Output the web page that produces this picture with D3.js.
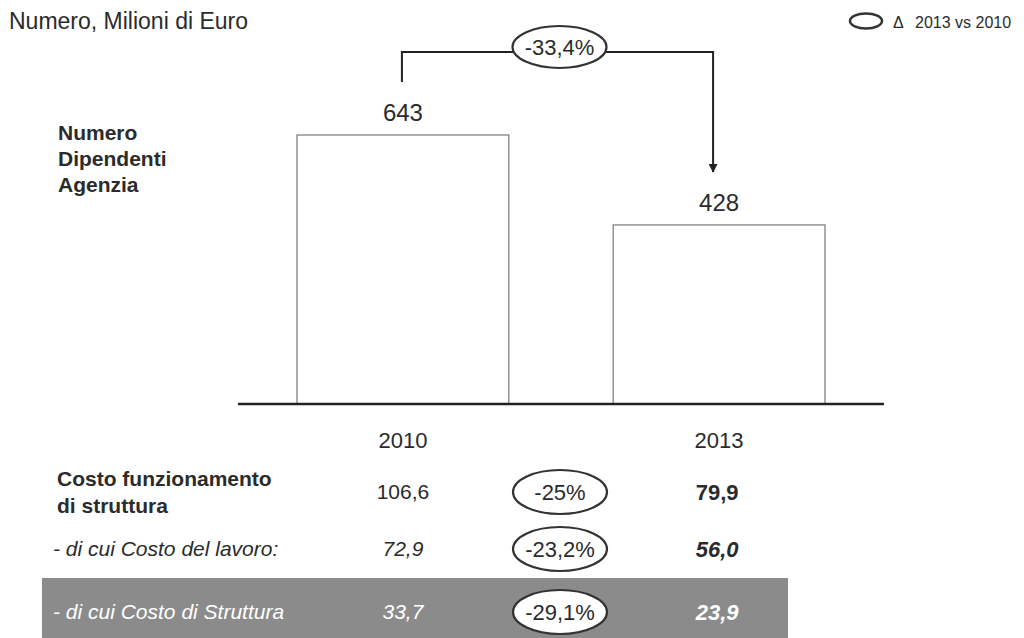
<!DOCTYPE html>
<html>
<head>
<meta charset="utf-8">
<script src="https://cdn.jsdelivr.net/npm/d3@7"></script>
<style>
body{margin:0;background:#fff;}
text{font-family:"Liberation Sans",Arial,sans-serif;fill:#2b2b2b;}
</style>
</head>
<body>
<svg class="chart" width="1024" height="638"></svg>
<script>
// chart data
var years = ["2010", "2013"];
var employees = [643, 428];
var employeesChange = "-33,4%";
var seriesLabel = ["Numero", "Dipendenti", "Agenzia"];

var rowLabels = [["Costo funzionamento", "di struttura"], ["- di cui Costo del lavoro:"], ["- di cui Costo di Struttura"]];
var costs2010 = [106.6, 72.9, 33.7];
var costs2013 = [79.9, 56.0, 23.9];
var costChanges = ["-25%", "-23,2%", "-29,1%"];

var it = d3.formatLocale({decimal: ",", thousands: ".", grouping: [3], currency: ["", "€"]});
var fmt = it.format(".1f");

var svg = d3.select(".chart");

var x = d3.scaleBand().domain(years).range([297, 825]).paddingInner(0.33).paddingOuter(0);
var y = d3.scaleLinear().domain([0, 643]).range([404, 135]);
var cx = function(d){ return x(d) + x.bandwidth() / 2; };

// header + legend
svg.append("text").attr("x", 9).attr("y", 21).attr("dy", "0.35em")
	.style("font-size", "23px").text("Numero, Milioni di Euro");

svg.append("ellipse").attr("cx", 866).attr("cy", 21).attr("rx", 16).attr("ry", 7.5)
	.style("fill", "none").style("stroke", "#333").style("stroke-width", 2.5);
svg.append("text").attr("x", 893).attr("y", 22).attr("dy", "0.35em")
	.style("font-size", "16px").text("Δ");
svg.append("text").attr("x", 915).attr("y", 22).attr("dy", "0.35em")
	.style("font-size", "16px").text("2013 vs 2010");

// series label
svg.selectAll(".slabel")
	.data(seriesLabel)
	.enter()
	.append("text")
	.attr("class", "slabel")
	.attr("x", 58)
	.attr("y", function(d, i){ return 133 + i * 26; })
	.attr("dy", "0.35em")
	.style("font-size", "21px").style("font-weight", "bold")
	.text(function(d){ return d; });

// bars
svg.selectAll(".bar")
	.data(employees)
	.enter()
	.append("rect")
	.attr("class", "bar")
	.attr("x", function(d, i){ return x(years[i]); })
	.attr("y", function(d){ return y(d); })
	.attr("width", x.bandwidth())
	.attr("height", function(d){ return y(0) - y(d); })
	.style("fill", "#fff").style("stroke", "#777").style("stroke-width", 1.2);

svg.selectAll(".vlabel")
	.data(employees)
	.enter()
	.append("text")
	.attr("class", "vlabel")
	.attr("x", function(d, i){ return cx(years[i]); })
	.attr("y", function(d){ return y(d) - 22; })
	.attr("dy", "0.35em")
	.attr("text-anchor", "middle")
	.style("font-size", "24px")
	.text(function(d){ return d; });

// baseline
svg.append("line").attr("x1", 238).attr("x2", 884).attr("y1", y(0)).attr("y2", y(0))
	.style("stroke", "#222").style("stroke-width", 2.5);

svg.selectAll(".year")
	.data(years)
	.enter()
	.append("text")
	.attr("class", "year")
	.attr("x", function(d){ return cx(d); })
	.attr("y", 440)
	.attr("dy", "0.35em")
	.attr("text-anchor", "middle")
	.style("font-size", "22px")
	.text(function(d){ return d; });

// change bracket
svg.append("defs").append("marker")
	.attr("id", "arrow").attr("viewBox", "0 0 10 10")
	.attr("refX", 9).attr("refY", 5)
	.attr("markerWidth", 4.5).attr("markerHeight", 4.5)
	.attr("orient", "auto")
	.append("path").attr("d", "M0,0L10,5L0,10Z").style("fill", "#222");

var bx0 = cx(years[0]) - 1, bx1 = cx(years[1]) - 6, bTop = 52, ex = (bx0 + bx1) / 2 + 2;
svg.append("path")
	.attr("d", "M" + bx0 + "," + (y(employees[0]) - 53) + "V" + bTop + "H" + ex)
	.style("fill", "none").style("stroke", "#222").style("stroke-width", 2);
svg.append("path")
	.attr("d", "M" + ex + "," + bTop + "H" + bx1 + "V" + (y(employees[1]) - 53))
	.attr("marker-end", "url(#arrow)")
	.style("fill", "none").style("stroke", "#222").style("stroke-width", 2);
svg.append("ellipse").attr("cx", ex).attr("cy", 47).attr("rx", 47).attr("ry", 21)
	.style("fill", "#fff").style("stroke", "#333").style("stroke-width", 2.2);
svg.append("text").attr("x", ex).attr("y", 47).attr("dy", "0.35em")
	.attr("text-anchor", "middle").style("font-size", "22px").text(employeesChange);

// table
var rowY = [492, 549, 612];

svg.append("rect").attr("x", 42).attr("y", 578).attr("width", 746).attr("height", 60)
	.style("fill", "#8b8b8b");

rowLabels.forEach(function(lines, r){
	var white = r == 2;
	lines.forEach(function(t, j){
		svg.append("text")
			.attr("x", r == 0 ? 57 : 53)
			.attr("y", rowY[r] + (lines.length > 1 ? (j - 0.5) * 27 : 0))
			.attr("dy", "0.35em")
			.style("font-size", "21px")
			.style("font-weight", r == 0 ? "bold" : "normal")
			.style("font-style", r == 0 ? "normal" : "italic")
			.style("fill", white ? "#fff" : "#2b2b2b")
			.text(t);
	});
});

svg.selectAll(".c2010")
	.data(costs2010)
	.enter()
	.append("text")
	.attr("class", "c2010")
	.attr("x", cx(years[0]))
	.attr("y", function(d, i){ return rowY[i]; })
	.attr("dy", "0.35em")
	.attr("text-anchor", "middle")
	.style("font-size", "21px")
	.style("font-style", function(d, i){ return i == 0 ? "normal" : "italic"; })
	.style("fill", function(d, i){ return i == 2 ? "#fff" : "#2b2b2b"; })
	.text(function(d){ return fmt(d); });

svg.selectAll(".c2013")
	.data(costs2013)
	.enter()
	.append("text")
	.attr("class", "c2013")
	.attr("x", cx(years[1]) - 2)
	.attr("y", function(d, i){ return rowY[i]; })
	.attr("dy", "0.35em")
	.attr("text-anchor", "middle")
	.style("font-size", "22px")
	.style("font-weight", "bold")
	.style("font-style", function(d, i){ return i == 0 ? "normal" : "italic"; })
	.style("fill", function(d, i){ return i == 2 ? "#fff" : "#2b2b2b"; })
	.text(function(d){ return fmt(d); });

svg.selectAll(".cchg")
	.data(costChanges)
	.enter()
	.append("ellipse")
	.attr("class", "cchg")
	.attr("cx", 560)
	.attr("cy", function(d, i){ return rowY[i]; })
	.attr("rx", 47).attr("ry", 22)
	.style("fill", "#fff").style("stroke", "#333").style("stroke-width", 2.2);

svg.selectAll(".cchgl")
	.data(costChanges)
	.enter()
	.append("text")
	.attr("class", "cchgl")
	.attr("x", 560)
	.attr("y", function(d, i){ return rowY[i]; })
	.attr("dy", "0.35em")
	.attr("text-anchor", "middle")
	.style("font-size", "22px")
	.text(function(d){ return d; });
</script>
</body>
</html>
